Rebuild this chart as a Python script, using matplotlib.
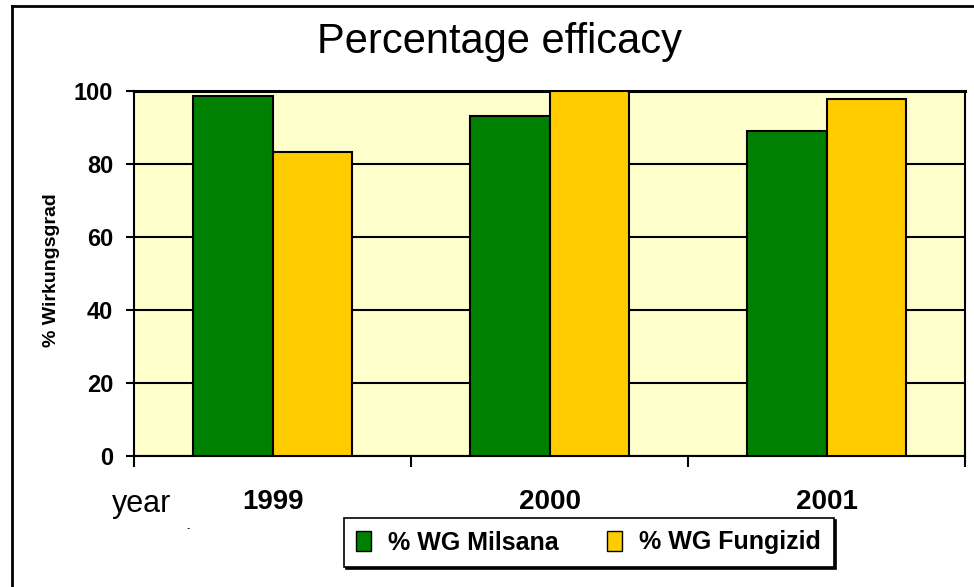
import matplotlib
matplotlib.use("Agg")
import matplotlib.pyplot as plt
from matplotlib.patches import Patch
import numpy as np

plt.rcParams['font.family'] = ['Liberation Sans', 'DejaVu Sans']

# data
years = ['1999', '2000', '2001']
milsana = [98.5, 93.2, 89.0]
fungizid = [83.2, 100.0, 97.9]
series_names = ['% WG Milsana', '% WG Fungizid']
yticks = [0, 20, 40, 60, 80, 100]

green = '#008000'
gold = '#FFCC00'
plot_bg = '#FFFFCC'

W, H = 974, 587
fig = plt.figure(figsize=(W / 100, H / 100), dpi=100)
ax = fig.add_axes([134 / W, 1 - 456 / H, (965 - 134) / W, (456 - 91) / H])
ax.set_facecolor(plot_bg)

x = np.arange(len(years))
w = 0.287
ax.bar(x - w / 2, milsana, w, color=green, edgecolor='black', linewidth=1.5, zorder=3)
ax.bar(x + w / 2, fungizid, w, color=gold, edgecolor='black', linewidth=1.5, zorder=3)

ax.set_xlim(-0.5, 2.5)
ax.set_ylim(0, 100)

# gridlines
ax.set_yticks(yticks)
ax.yaxis.grid(True, color='black', linewidth=1.5, zorder=1)
ax.set_axisbelow(True)
ax.tick_params(axis='y', direction='out', length=6, width=1.5, pad=9,
               labelsize=17)
for lab in ax.get_yticklabels():
    lab.set_fontweight('bold')

# x: ticks at boundaries, labels at category centres
ax.set_xticks(np.arange(-0.5, 2.6, 1.0))
ax.set_xticklabels([])
ax.tick_params(axis='x', which='major', direction='out', length=7.7, width=1.5)
ax.set_xticks(x, minor=True)
ax.set_xticklabels(years, minor=True, fontsize=20, fontweight='bold')
ax.tick_params(axis='x', which='minor', length=0, pad=24)

for s in ax.spines.values():
    s.set_color('black')
    s.set_linewidth(1.5)
ax.spines['top'].set_linewidth(2.2)

# title, labels
fig.text(0.513, 1 - 53 / H, 'Percentage efficacy', ha='center', va='baseline',
         fontsize=30)
fig.text(52 / W, 1 - 270 / H, '% Wirkungsgrad', rotation=90, ha='center',
         va='center', fontsize=14, fontweight='bold')
fig.text(112 / W, 1 - 512 / H, 'year', ha='left', va='baseline', fontsize=22)
fig.text(188 / W, 1 - 528 / H, '-', ha='center', va='center', fontsize=7)

# legend
handles = [Patch(facecolor=green, edgecolor='black', linewidth=1),
           Patch(facecolor=gold, edgecolor='black', linewidth=1)]
leg = fig.legend(handles, series_names, loc='center',
                 bbox_to_anchor=(588.5 / W, 1 - 542.5 / H), ncol=2,
                 prop={'size': 18, 'weight': 'bold'}, frameon=True,
                 fancybox=False, handlelength=0.6, handleheight=0.9,
                 handletextpad=0.7, columnspacing=1.9, borderpad=0.5,
                 shadow={'color': 'black', 'alpha': 1, 'ox': 1.5, 'oy': -1.5})
leg.get_frame().set_edgecolor('black')
leg.get_frame().set_linewidth(1.2)

# outer chart border (only left and top visible in the reference)
fig.add_artist(plt.Line2D([12 / W, 12 / W], [0, 1 - 6 / H], transform=fig.transFigure,
                          color='black', linewidth=2))
fig.add_artist(plt.Line2D([12 / W, 1], [1 - 6 / H, 1 - 6 / H], transform=fig.transFigure,
                          color='black', linewidth=2))

fig.savefig('out.png', dpi=100)
